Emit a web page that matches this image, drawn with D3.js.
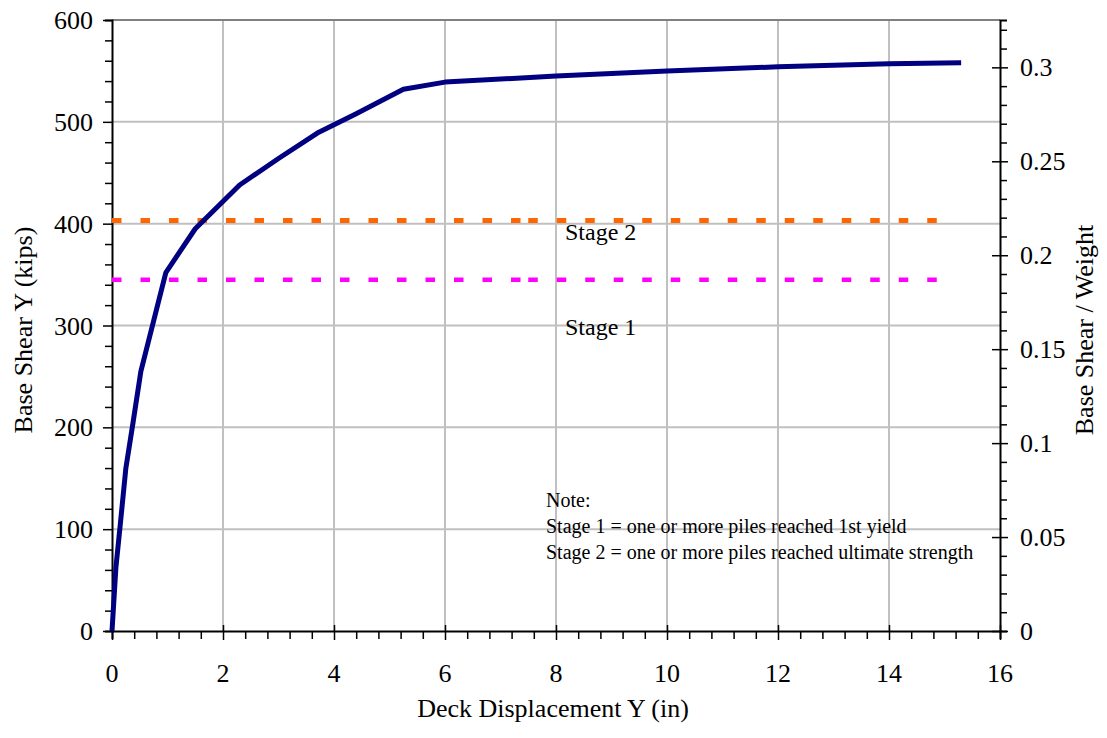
<!DOCTYPE html>
<html><head><meta charset="utf-8">
<script src="https://cdn.jsdelivr.net/npm/d3@7"></script>
<style>body{margin:0;background:#fff}svg{display:block}text{font-family:"Liberation Serif","Times New Roman",serif;fill:#000}</style>
</head><body><svg id="c" width="1107" height="738"></svg>
<script>
const dispX = [0, 0.07, 0.15, 0.25, 0.38, 0.52, 0.97, 1.5, 2.3, 3.0, 3.7, 4.4, 5.25, 6.0, 8.0, 10.0, 12.0, 14.0, 15.3];
const shearY = [0, 62, 105, 160, 205, 255, 352, 395, 438, 464, 489, 508, 532, 539, 545, 550, 554, 557, 558];
const stage1Shear = 345;
const stage2Shear = 403;
const stageLineX = [[0, 7.5], [7.5, 15]];
const xTicks = [0, 2, 4, 6, 8, 10, 12, 14, 16];
const yTicks = [0, 100, 200, 300, 400, 500, 600];
const y2Ticks = [0, 0.05, 0.1, 0.15, 0.2, 0.25, 0.3];
const noteLines = ["Note:", "Stage 1 = one or more piles reached 1st yield", "Stage 2 = one or more piles reached ultimate strength"];

const svg = d3.select("#c");
const L = 112, R = 1000, T = 20, B = 631;
const x = d3.scaleLinear().domain([0, 16]).range([L, R]);
const y = d3.scaleLinear().domain([0, 600]).range([B, T]);
const y2 = d3.scaleLinear().domain([0, 0.3252]).range([B, T]);

// grid
const g = svg.append("g");
g.selectAll("line.v").data(xTicks.slice(1, -1)).join("line")
  .attr("x1", d => x(d)).attr("x2", d => x(d)).attr("y1", T).attr("y2", B)
  .attr("stroke", "#c0c0c0").attr("stroke-width", 2);
g.selectAll("line.h").data(yTicks.slice(1, -1)).join("line")
  .attr("x1", L).attr("x2", R).attr("y1", d => y(d)).attr("y2", d => y(d))
  .attr("stroke", "#c0c0c0").attr("stroke-width", 2);
g.append("line").attr("x1", L).attr("x2", R).attr("y1", T).attr("y2", T).attr("stroke", "#808080").attr("stroke-width", 2);

// axes
function minorTicks(lo, hi, step) { const a = []; for (let i = 0; lo + i * step <= hi + 1e-9; i++) a.push(+(lo + i * step).toFixed(4)); return a; }
const ax = svg.append("g").attr("transform", `translate(0,${B})`);
ax.call(d3.axisBottom(x).tickValues(minorTicks(0, 16, 0.4)).tickSize(8).tickFormat(""));
ax.call(g2 => g2.selectAll(".tick").filter(d => Math.abs(d / 2 - Math.round(d / 2)) < 1e-6).select("line").attr("y1", -6).attr("y2", 9));
ax.select(".domain").attr("stroke-width", 2);
ax.selectAll(".tick line").attr("stroke-width", 1.5);
svg.append("g").selectAll("text").data(xTicks).join("text")
  .attr("x", d => x(d)).attr("y", 682).attr("text-anchor", "middle").attr("font-size", 26).text(d => d);

const ay = svg.append("g").attr("transform", `translate(${L},0)`);
ay.call(d3.axisLeft(y).tickValues(minorTicks(0, 600, 20)).tickSize(7).tickFormat(""));
ay.call(g2 => g2.selectAll(".tick").filter(d => d % 100 === 0).select("line").attr("x2", -9));
ay.select(".domain").attr("stroke-width", 2);
ay.selectAll(".tick line").attr("stroke-width", 1.5);
svg.append("g").selectAll("text").data(yTicks).join("text")
  .attr("x", 93).attr("y", d => y(d) + 9).attr("text-anchor", "end").attr("font-size", 26).text(d => d);

const ay2 = svg.append("g").attr("transform", `translate(${R},0)`);
ay2.call(d3.axisRight(y2).tickValues(minorTicks(0, 0.32, 0.01)).tickSize(7).tickFormat(""));
ay2.call(g2 => g2.selectAll(".tick").filter(d => Math.abs(d / 0.05 - Math.round(d / 0.05)) < 1e-6).select("line").attr("x1", -8).attr("x2", 8));
ay2.select(".domain").attr("stroke-width", 2);
ay2.selectAll(".tick line").attr("stroke-width", 1.5);
svg.append("g").selectAll("text").data(y2Ticks).join("text")
  .attr("x", 1020).attr("y", d => y2(d) + 9).attr("text-anchor", "start").attr("font-size", 26).text(d => d);

// titles
svg.append("text").attr("x", 553).attr("y", 717).attr("text-anchor", "middle").attr("font-size", 26).text("Deck Displacement Y (in)");
svg.append("text").attr("transform", "translate(32,330) rotate(-90)").attr("text-anchor", "middle").attr("font-size", 26).text("Base Shear Y (kips)");
svg.append("text").attr("transform", "translate(1093,330) rotate(-90)").attr("text-anchor", "middle").attr("font-size", 26).text("Base Shear / Weight");

// stage lines
const pts = dispX.map((d, i) => [d, shearY[i]]);
const line = d3.line().x(d => x(d[0])).y(d => y(d[1]));
stageLineX.forEach(seg => {
  svg.append("path").attr("d", line(seg.map(v => [v, stage2Shear]))).attr("fill", "none")
    .attr("stroke", "#ff6600").attr("stroke-width", 5).attr("stroke-dasharray", "9.5,19");
  svg.append("path").attr("d", line(seg.map(v => [v, stage1Shear]))).attr("fill", "none")
    .attr("stroke", "#ff00ff").attr("stroke-width", 4.5).attr("stroke-dasharray", "9.5,19");
});

svg.append("path").attr("d", line(pts)).attr("fill", "none").attr("stroke", "#000080")
  .attr("stroke-width", 5).attr("stroke-linejoin", "round");

svg.append("text").attr("x", 565).attr("y", 240).attr("font-size", 24).text("Stage 2");
svg.append("text").attr("x", 565).attr("y", 335).attr("font-size", 24).text("Stage 1");

svg.append("g").selectAll("text").data(noteLines).join("text")
  .attr("x", 546).attr("y", (d, i) => 507 + i * 26).attr("font-size", 20).text(d => d);
</script></body></html>
